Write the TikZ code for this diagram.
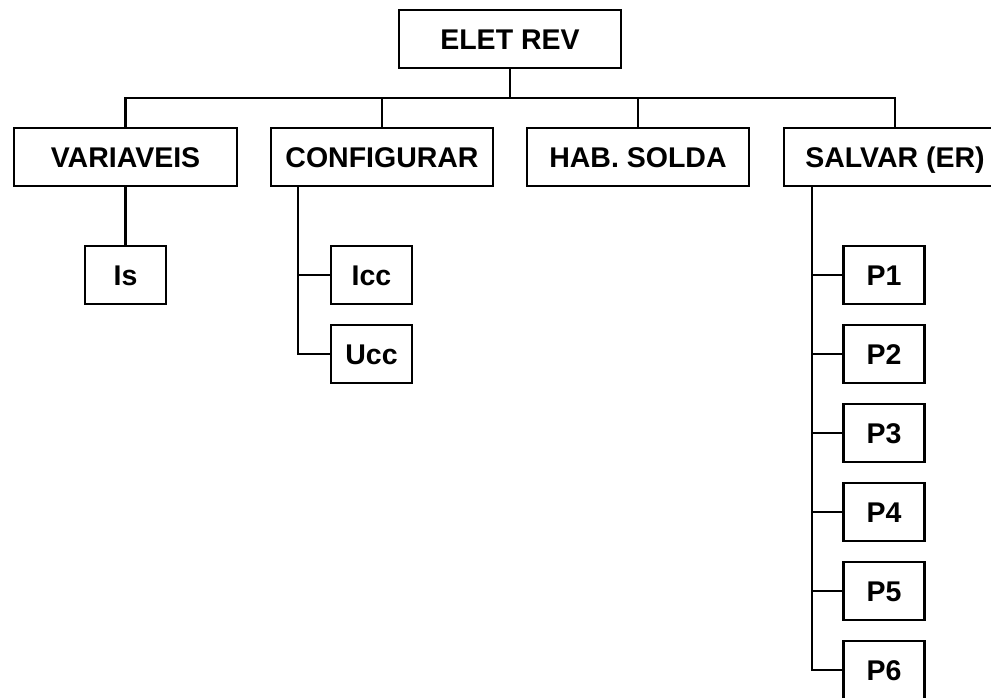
\documentclass[tikz,border=0pt]{standalone}
\usepackage{fontspec}
\setmainfont{Liberation Sans}
\usetikzlibrary{calc,positioning}

\begin{document}
\begin{tikzpicture}[x=1pt,y=-1pt,line cap=rect,line join=miter,
  line width=2.2pt,
  font=\fontsize{28.5}{31}\selectfont\bfseries,
  box/.style={draw,rectangle,minimum width=222pt,minimum height=58pt,inner sep=0pt,
    text height=20.4pt,text depth=0pt},
  sub/.style={box,minimum width=81pt}]
\path[use as bounding box] (0,0) rectangle (991,698);
\fill[white] (0,0) rectangle (991,698);

% raiz e primeiro nivel
\node[box] (root) at (510,39) {ELET REV};
\node[box,minimum width=223pt] (var) at (125.5,157) {VARIAVEIS};
\node[box] (cfg) at (382,157) {CONFIGURAR};
\node[box] (hab) at (638,157) {HAB. SOLDA};
\node[box] (sal) at (895,157) {SALVAR (ER)};

\coordinate (bar) at (510,98);
\draw (root.south) -- (bar);
\draw (var.north) |- (bar) -| (sal.north);
\draw (cfg.north) -- (cfg.north |- bar);
\draw (hab.north) -- (hab.north |- bar);

% VARIAVEIS
\node[sub] (is) at (125.5,275) {Is};
\draw (var.south) -- (is.north);

% CONFIGURAR
\node[sub] (icc) at (371.5,275) {Icc};
\node[sub] (ucc) at (371.5,354) {Ucc};
\coordinate (cfgtrunk) at ($(cfg.south)+(-84,0)$);
\draw (cfgtrunk) |- (ucc.west);
\draw (icc.west) -- (icc.west -| cfgtrunk);

% SALVAR (ER)
\coordinate (saltrunk) at ($(sal.south)+(-83,0)$);
\foreach \i in {1,...,6} {
  \node[sub] (p\i) at (884,{275+79*(\i-1)}) {P\i};
  \draw (p\i.west) -- (p\i.west -| saltrunk);
}
\draw (saltrunk) -- (saltrunk |- p6.west);
\end{tikzpicture}
\end{document}
